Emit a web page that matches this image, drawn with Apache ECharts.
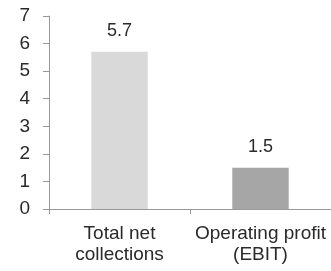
<!DOCTYPE html>
<html lang="en">
<head>
    <meta charset="UTF-8">
    <title>Net collections vs EBIT</title>
    <script src="https://cdn.jsdelivr.net/npm/echarts@6.0.0/dist/echarts.min.js"></script>
    <style>
        html, body {
            margin: 0;
            padding: 0;
            background-color: #ffffff;
        }
        #chartContainer {
            width: 331px;
            height: 271px;
        }
    </style>
</head>
<body>
    <div id="chartContainer"></div>

    <script>
        // chart data
        const categories = ['Total net\ncollections', 'Operating profit\n(EBIT)'];
        const values = [5.7, 1.5];
        const barColors = ['#d9d9d9', '#a6a6a6'];

        const fontFamily = '"Liberation Sans", Arial, sans-serif';
        const textColor = '#2a2a2a';
        const axisColor = '#999999';

        const myChart = echarts.init(document.getElementById('chartContainer'));

        const option = {
            animation: false,
            grid: {
                left: 49,
                right: 0,
                top: 16,
                bottom: 62
            },
            xAxis: {
                type: 'category',
                data: categories,
                axisLine: { lineStyle: { color: axisColor, width: 1 } },
                axisTick: { show: true, length: 5, lineStyle: { color: axisColor } },
                axisLabel: {
                    color: textColor,
                    fontFamily: fontFamily,
                    fontSize: 19,
                    lineHeight: 21,
                    margin: 14,
                    interval: 0
                }
            },
            yAxis: {
                type: 'value',
                min: 0,
                max: 7,
                interval: 1,
                splitLine: { show: false },
                axisLine: { show: true, lineStyle: { color: axisColor, width: 1 } },
                axisTick: { show: true, length: 6, lineStyle: { color: axisColor } },
                axisLabel: {
                    color: textColor,
                    fontFamily: fontFamily,
                    fontSize: 19,
                    margin: 19
                }
            },
            series: [{
                type: 'bar',
                barWidth: '40%',
                data: values.map((v, i) => ({
                    value: v,
                    itemStyle: { color: barColors[i] }
                })),
                label: {
                    show: true,
                    position: 'top',
                    distance: 12,
                    color: textColor,
                    fontFamily: fontFamily,
                    fontSize: 18
                }
            }]
        };

        myChart.setOption(option);
    </script>
</body>
</html>
